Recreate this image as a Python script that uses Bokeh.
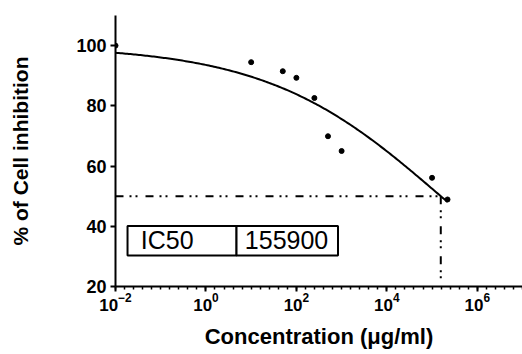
import numpy as np
from bokeh.plotting import figure
from bokeh.models import FixedTicker, Range1d, LogTickFormatter
from bokeh.core.properties import value
from bokeh.embed import file_html
from bokeh.resources import INLINE

# Measured data
conc = [0.01, 10, 50, 100, 250, 500, 1000, 100000, 220000]
inhibition = [100, 94.5, 91.5, 89.3, 82.6, 69.9, 65.0, 56.1, 48.9]

# Fitted curve parameters (from the chart's table)
fit_top = 100.0
fit_bottom = 0.0
ic50 = 155900
hill = 0.224
curve_end = 220000
half_level = 50

x_ticks = [0.01, 1, 100, 10000, 1000000]
y_ticks = [20, 40, 60, 80, 100]

FONT = "Liberation Sans"

p = figure(width=522, height=354, x_axis_type="log",
           x_range=Range1d(0.01, 1e7), y_range=Range1d(20, 110),
           output_backend="svg", toolbar_location=None,
           min_border_left=115, min_border_right=0, min_border_top=15,
           min_border_bottom=68)
p.outline_line_color = None
p.grid.visible = False
p.background_fill_color = "white"

# fitted curve
xc = np.logspace(np.log10(conc[0]), np.log10(curve_end), 200)
yc = fit_bottom + (fit_top - fit_bottom) / (1 + (xc / ic50) ** hill)
p.line(xc, yc, line_color="black", line_width=2)

# IC50 guide lines
dash = "8 6 2 4 2 8"
p.line([conc[0], ic50], [half_level, half_level], line_color="black",
       line_width=2, line_dash=dash)
p.line([ic50, ic50], [half_level, 20], line_color="black",
       line_width=2, line_dash=dash)

# points
p.scatter(conc, inhibition, size=5, color="black")

# IC50 table
tb_left, tb_mid, tb_right = 10 ** -1.734, 10 ** 0.676, 10 ** 2.92
tb_bottom, tb_top = 30.3, 40.1
p.quad(left=[tb_left, tb_mid], right=[tb_mid, tb_right], bottom=tb_bottom,
       top=tb_top, fill_color="white", line_color="black", line_width=2)
p.text(x=[10 ** -1.44, 10 ** 0.86], y=[(tb_top + tb_bottom) / 2 + 0.2] * 2,
       text=["IC50", str(ic50)], text_font=value(FONT), text_font_size="25px",
       text_baseline="middle", text_align="left", text_color="black")

# axes
xa = p.xaxis[0]
xa.ticker = FixedTicker(ticks=x_ticks,
                        minor_ticks=[10 ** (k / 5) for k in range(-10, 36)])
xa.formatter = LogTickFormatter(min_exponent=0)
xa.axis_label = "Concentration (μg/ml)"
ya = p.yaxis[0]
ya.ticker = FixedTicker(ticks=y_ticks)
ya.axis_label = "% of Cell inhibition"

for ax in (xa, ya):
    ax.axis_line_width = 2
    ax.axis_line_color = "black"
    ax.major_tick_line_width = 2
    ax.major_tick_line_color = "black"
    ax.major_tick_out = 5
    ax.major_tick_in = 0
    ax.minor_tick_line_width = 1.5
    ax.minor_tick_line_color = "black"
    ax.minor_tick_out = 3
    ax.minor_tick_in = 0
    ax.major_label_text_font = FONT
    ax.major_label_text_font_style = "bold"
    ax.major_label_text_color = "black"
    ax.axis_label_text_font = FONT
    ax.axis_label_text_font_style = "bold"
    ax.axis_label_text_color = "black"

xa.major_label_text_font_size = "17px"
ya.major_label_text_font_size = "18px"
xa.axis_label_text_font_size = "22px"
ya.axis_label_text_font_size = "21px"
ya.minor_tick_line_color = None
ya.major_label_standoff = 4
ya.axis_label_standoff = 41
xa.major_label_standoff = 1
xa.axis_label_standoff = 10

open("out.html", "w").write(file_html(p, INLINE))
